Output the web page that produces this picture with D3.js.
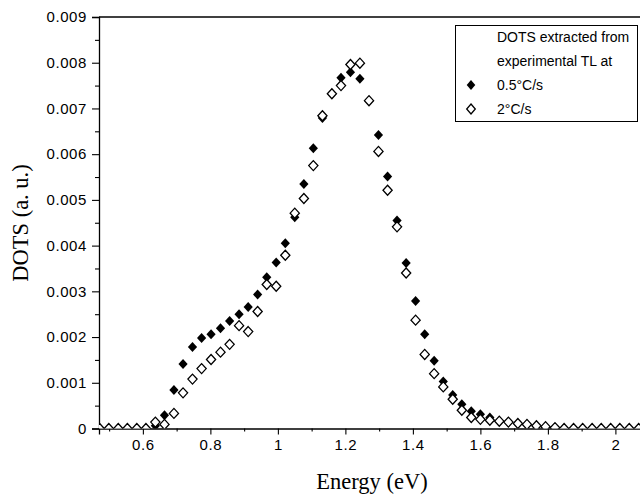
<!DOCTYPE html>
<html>
<head>
<meta charset="utf-8">
<script src="https://cdn.jsdelivr.net/npm/d3@7"></script>
<style>
  html, body { margin: 0; padding: 0; background: #fff; }
  svg { display: block; }
</style>
</head>
<body>
<svg id="chart" width="640" height="496"></svg>
<script>
// Energy (eV) sample positions, shared by both series
const energy = [0.472, 0.499, 0.527, 0.554, 0.582, 0.609, 0.637, 0.664, 0.692, 0.719,
  0.747, 0.774, 0.802, 0.830, 0.857, 0.885, 0.912, 0.940, 0.967, 0.995,
  1.022, 1.050, 1.077, 1.105, 1.132, 1.160, 1.187, 1.215, 1.243, 1.270,
  1.298, 1.325, 1.353, 1.380, 1.408, 1.435, 1.463, 1.490, 1.518, 1.545,
  1.573, 1.600, 1.628, 1.656, 1.683, 1.711, 1.738, 1.766, 1.793, 1.821,
  1.848, 1.876, 1.903, 1.931, 1.958, 1.986, 2.013, 2.041, 2.069];

// DOTS at 0.5 °C/s (filled diamonds); null = no point
const dotsSlow = [null, null, null, null, null, null, 0.00006, 0.00029, 0.00084, 0.00141,
  0.00178, 0.00198, 0.00206, 0.00219, 0.00235, 0.00250, 0.00266, 0.00293, 0.00331, 0.00363,
  0.00405, 0.00462, 0.00535, 0.00613, 0.00679, 0.00732, 0.00767, 0.00779, 0.00765, 0.00717,
  0.00642, 0.00551, 0.00455, 0.00362, 0.00279, 0.00206, 0.00148, 0.00103, 0.00073, 0.00053,
  0.00038, 0.00031, 0.00024, 0.00016, 0.00014, 0.00011, 0.00009, null, null, null,
  null, null, null, null, null, null, null, null, null];

// DOTS at 2 °C/s (open diamonds)
const dotsFast = [0, 0, 0, 0, 0, 0, 0.00014, 0.00009, 0.00033, 0.00078,
  0.00108, 0.00131, 0.00151, 0.00167, 0.00184, 0.00225, 0.00212, 0.00256, 0.00315, 0.00311,
  0.00379, 0.00471, 0.00503, 0.00575, 0.00684, 0.00732, 0.00750, 0.00796, 0.00799, 0.00717,
  0.00606, 0.00521, 0.00441, 0.00340, 0.00237, 0.00162, 0.00120, 0.00091, 0.00064, 0.00040,
  0.00024, 0.00020, 0.00018, 0.00016, 0.00014, 0.00011, 0.00009, 0.00006, 0.00004, 0.00002,
  0, 0, 0, 0, 0, 0, 0, 0, 0];

const xMajorTicks = [0.6, 0.8, 1.0, 1.2, 1.4, 1.6, 1.8, 2.0];
const xMinorTicks = [0.5, 0.7, 0.9, 1.1, 1.3, 1.5, 1.7, 1.9, 2.1];
const yMajorTicks = [0, 0.001, 0.002, 0.003, 0.004, 0.005, 0.006, 0.007, 0.008, 0.009];
const yMinorTicks = [0.0005, 0.0015, 0.0025, 0.0035, 0.0045, 0.0055, 0.0065, 0.0075, 0.0085];
const legendTitle = ["DOTS extracted from", "experimental TL at"];
const seriesNames = ["0.5°C/s", "2°C/s"];
const xTitle = "Energy (eV)";
const yTitle = "DOTS (a. u.)";

const svg = d3.select("#chart");
const L = 99, T = 17, B = 428.5, R = 682.9;
const x = d3.scaleLinear().domain([0.47, 2.2]).range([L, R]);
const y = d3.scaleLinear().domain([0, 0.009]).range([B, T]);

const tickFont = "'Liberation Sans', Arial, sans-serif";

// clip for markers
svg.append("defs").append("clipPath").attr("id", "plotclip")
  .append("rect").attr("x", L).attr("y", T).attr("width", R - L).attr("height", B - T);

// top frame line
svg.append("line").attr("x1", L).attr("x2", R).attr("y1", T).attr("y2", T)
  .attr("stroke", "#000").attr("stroke-width", 1.3);

// x axis
svg.append("g").attr("transform", `translate(0,${B})`)
  .call(d3.axisBottom(x).tickValues(xMajorTicks).tickSize(6).tickPadding(5)
    .tickFormat(d => String(+d.toFixed(1))));
svg.append("g").attr("transform", `translate(0,${B})`)
  .call(d3.axisBottom(x).tickValues(xMinorTicks).tickSize(3).tickFormat(""))
  .select(".domain").remove();

// y axis
svg.append("g").attr("transform", `translate(${L},0)`)
  .call(d3.axisLeft(y).tickValues(yMajorTicks).tickSize(7).tickPadding(5)
    .tickFormat(d => d === 0 ? "0" : d.toFixed(3)));
svg.append("g").attr("transform", `translate(${L},0)`)
  .call(d3.axisLeft(y).tickValues(yMinorTicks).tickSize(4).tickFormat(""))
  .select(".domain").remove();

svg.selectAll(".domain").attr("stroke-width", 1.3);
svg.selectAll(".tick line").attr("stroke-width", 1.1);
svg.selectAll(".tick text")
  .attr("font-family", tickFont).attr("font-size", 15).attr("letter-spacing", 0.6)
  .attr("fill", "#000");

// axis titles
svg.append("text").attr("x", 372).attr("y", 489).attr("text-anchor", "middle")
  .attr("font-family", "'Liberation Serif', 'Times New Roman', serif").attr("font-size", 22.5)
  .text(xTitle);
svg.append("text").attr("transform", "translate(28,223) rotate(-90)").attr("text-anchor", "middle")
  .attr("font-family", "'Liberation Serif', 'Times New Roman', serif").attr("font-size", 22.5)
  .text(yTitle);

// diamond marker
const diamond = (rx, ry) => `M0,${-ry}L${rx},0L0,${ry}L${-rx},0Z`;

const plot = svg.append("g").attr("clip-path", "url(#plotclip)");
const slowPts = energy.map((e, i) => ({e, v: dotsSlow[i]})).filter(d => d.v !== null);
const fastPts = energy.map((e, i) => ({e, v: dotsFast[i]})).filter(d => d.v !== null);

plot.selectAll("path.slow").data(slowPts).join("path").attr("class", "slow")
  .attr("d", diamond(4.6, 5))
  .attr("transform", d => `translate(${x(d.e)},${y(d.v)})`)
  .attr("fill", "#000");

plot.selectAll("path.fast").data(fastPts).join("path").attr("class", "fast")
  .attr("d", diamond(4.6, 5))
  .attr("transform", d => `translate(${x(d.e)},${y(d.v)})`)
  .attr("fill", "#fff").attr("stroke", "#000").attr("stroke-width", 1.3);

// legend
const lg = svg.append("g");
lg.append("rect").attr("x", 455.5).attr("y", 25.5).attr("width", 182).attr("height", 96)
  .attr("fill", "#fff").attr("stroke", "#000").attr("stroke-width", 1);
const rowsY = [37, 61, 85, 109];
const legendFont = "'Liberation Sans', Arial, sans-serif";
legendTitle.forEach((t, i) => {
  lg.append("text").attr("x", 497).attr("y", rowsY[i]).attr("dy", "0.35em")
    .attr("font-family", legendFont).attr("font-size", 14).text(t);
});
seriesNames.forEach((t, i) => {
  lg.append("path").attr("d", diamond(4.3, 5))
    .attr("transform", `translate(471,${rowsY[i + 2]})`)
    .attr("fill", i === 0 ? "#000" : "#fff").attr("stroke", i === 0 ? "none" : "#000")
    .attr("stroke-width", 1.3);
  lg.append("text").attr("x", 497).attr("y", rowsY[i + 2]).attr("dy", "0.35em")
    .attr("font-family", legendFont).attr("font-size", 14).text(t);
});
</script>
</body>
</html>
